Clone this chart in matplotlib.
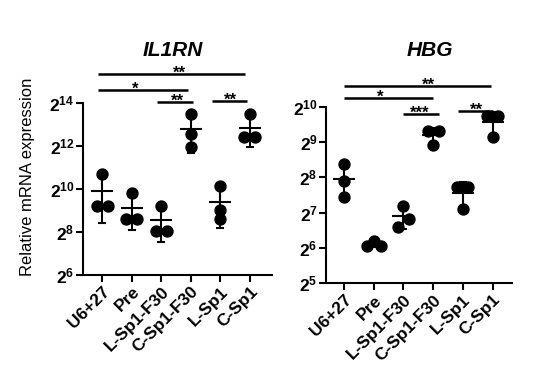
import numpy as np
import matplotlib
matplotlib.use('Agg')
import matplotlib.pyplot as plt
from matplotlib.ticker import FixedLocator, FuncFormatter, NullLocator

plt.rcParams['font.family'] = ['Liberation Sans', 'DejaVu Sans']
plt.rcParams['mathtext.fontset'] = 'custom'
plt.rcParams['mathtext.rm'] = 'Liberation Sans:bold'
plt.rcParams['mathtext.bf'] = 'Liberation Sans:bold'
plt.rcParams['mathtext.it'] = 'Liberation Sans:bold:italic'

# ---------------- data ----------------
categories = ['U6+27', 'Pre', 'L-Sp1-F30', 'C-Sp1-F30', 'L-Sp1', 'C-Sp1']

# log2 of relative mRNA expression, 3 replicates per group
il1rn_log2 = [[10.71, 9.23, 9.23],
              [9.81, 8.63, 8.63],
              [9.23, 8.05, 8.05],
              [13.50, 12.56, 11.95],
              [10.13, 9.03, 8.63],
              [13.49, 12.42, 12.42]]
hbg_log2 = [[8.37, 7.91, 7.45],
            [6.21, 6.06, 6.06],
            [7.20, 6.83, 6.58],
            [9.31, 9.31, 8.92],
            [7.74, 7.74, 7.09],
            [9.74, 9.74, 9.13]]

il1rn_ticks = [6, 8, 10, 12, 14]
hbg_ticks = [5, 6, 7, 8, 9, 10]

il1rn_sig = ['**', '*', '**', '**']
hbg_sig = ['**', '*', '***', '**']

# ---------------- layout ----------------
W, H = 545, 367
fig = plt.figure(figsize=(W / 100, H / 100), dpi=100)


def px_axes(x0, x1, ytop, ybot):
    return fig.add_axes([x0 / W, 1 - ybot / H, (x1 - x0) / W, (ybot - ytop) / H])


# (x0, x1, y(log2), x_text) for significance bars
il1rn_bars = [(-0.14, 4.84, 15.35, 2.63), (-0.14, 2.90, 14.62, 1.11),
              (1.84, 3.08, 14.07, 2.55), (3.71, 4.90, 14.12, 4.33)]
hbg_bars = [(0.0, 4.94, 10.59, 2.83), (0.0, 3.00, 10.25, 1.21),
            (2.0, 3.20, 9.79, 2.53), (3.82, 5.00, 9.89, 4.46)]

panels = [
    dict(ax=px_axes(82.7, 271.7, 103.3, 275.0), data=il1rn_log2, ticks=il1rn_ticks,
         xlim=(-0.664, 5.742), sig=il1rn_sig, bars=il1rn_bars, spread=0.6),
    dict(ax=px_axes(326.0, 511.7, 106.7, 283.3), data=hbg_log2, ticks=hbg_ticks,
         xlim=(-0.605, 5.64), sig=hbg_sig, bars=hbg_bars, spread=0.95),
]

MS = 7.9
LW = 1.5
STAR_FS = 12

for p in panels:
    ax = p['ax']
    ax.set_yscale('log', base=2)
    ax.set_xlim(*p['xlim'])
    ax.set_ylim(2.0 ** p['ticks'][0], 2.0 ** p['ticks'][-1])
    fig.canvas.draw()
    x0d = ax.transData.transform((0, 2.0 ** p['ticks'][0]))
    x1d = ax.transData.transform((1, 2.0 ** (p['ticks'][0] + 1)))
    px_per_cat = x1d[0] - x0d[0]
    px_per_log = x1d[1] - x0d[1]
    diam = MS / 72 * 100
    for i, vals in enumerate(p['data']):
        vals = np.array(vals, dtype=float)
        lin = 2.0 ** vals
        m = lin.mean()
        sd = lin.std(ddof=1)
        # cluster overlapping points and spread them horizontally
        order = np.argsort(vals)
        offs = np.zeros(len(vals))
        clusters = [[order[0]]]
        for k in order[1:]:
            if (vals[k] - vals[clusters[-1][-1]]) * px_per_log < diam * p['spread']:
                clusters[-1].append(k)
            else:
                clusters.append([k])
        for c in clusters:
            n = len(c)
            if n == 2:
                offs[c[0]] = -0.5 * diam / px_per_cat
                offs[c[1]] = 0.5 * diam / px_per_cat
            elif n == 3:
                offs[c[0]] = -0.62 * diam / px_per_cat
                offs[c[1]] = 0.62 * diam / px_per_cat
                offs[c[2]] = 0.0
        ax.errorbar([i], [m], yerr=[[m - max(m - sd, 1e-9)], [sd]], fmt='none',
                    ecolor='black', elinewidth=LW, capsize=2.6, capthick=LW, zorder=2)
        ax.plot(i + offs, lin, 'o', color='black', ms=MS, mec='black', zorder=3)
        ax.hlines(m, i - 0.37, i + 0.37, color='black', lw=LW, zorder=4)

    ax.spines['top'].set_visible(False)
    ax.spines['right'].set_visible(False)
    for s in ('left', 'bottom'):
        ax.spines[s].set_linewidth(LW)
    ax.yaxis.set_major_locator(FixedLocator([2.0 ** t for t in p['ticks']]))
    ax.yaxis.set_minor_locator(NullLocator())
    ax.yaxis.set_major_formatter(FuncFormatter(lambda v, pos: r'$\mathbf{2^{%d}}$' % round(np.log2(v))))
    ax.set_xticks(range(len(categories)))
    ax.set_xticklabels(categories, rotation=45, ha='right', va='top',
                       rotation_mode='anchor', fontweight='bold', fontsize=12.5)
    ax.tick_params(axis='both', direction='out', length=5, width=LW, pad=1.5)
    ax.tick_params(axis='y', labelsize=12.5, pad=1)

    for (a, b, y, xt), lab in zip(p['bars'], p['sig']):
        ax.plot([a, b], [2.0 ** y, 2.0 ** y], color='black', lw=1.8, clip_on=False,
                solid_capstyle='butt')
        ax.annotate(lab, (xt, 2.0 ** y), xytext=(0, -0.43 * STAR_FS + 2.4),
                    textcoords='offset points', ha='center', va='baseline',
                    fontsize=STAR_FS, fontweight='bold', annotation_clip=False)

fig.text(173 / W, 1 - 50 / H, 'IL1RN', ha='center', va='center', fontsize=15,
         fontweight='bold', fontstyle='italic')
fig.text(430 / W, 1 - 50 / H, 'HBG', ha='center', va='center', fontsize=15,
         fontweight='bold', fontstyle='italic')
fig.text(28 / W, 1 - 177 / H, 'Relative mRNA expression', rotation=90,
         ha='center', va='center', fontsize=12)

fig.savefig('out.png', dpi=100)
